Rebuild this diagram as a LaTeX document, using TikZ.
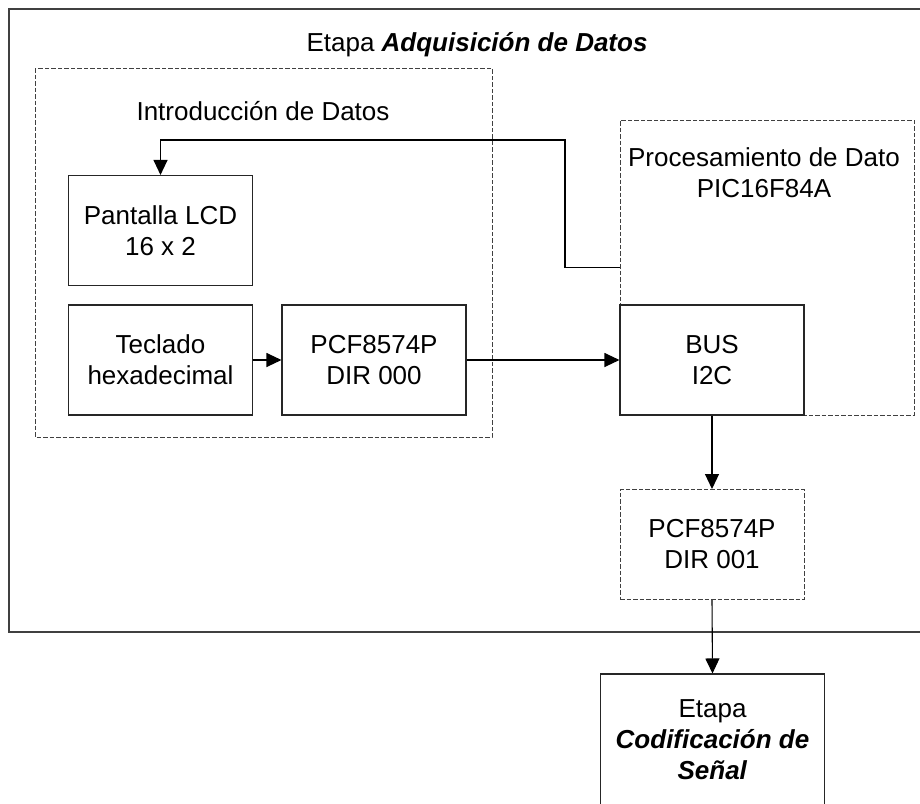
\documentclass[tikz,border=0pt]{standalone}
\usepackage{fontspec}
\setmainfont{Liberation Sans}
\usetikzlibrary{arrows.meta}
\begin{document}
\begin{tikzpicture}[x=1pt,y=-1pt,
  every node/.style={font=\fontsize{26}{31}\selectfont, align=center, inner sep=0pt},
  blk/.style={draw=black!85, line width=1.1pt, fill=white, minimum width=184pt, minimum height=110pt},
  dblk/.style={draw=black!75, line width=1pt, dash pattern=on 4.5pt off 2pt},
  arr/.style={draw=black, line width=1.1pt, -{Triangle[length=15pt,width=14pt]}},
  lbl/.style={anchor=base}]
\useasboundingbox (0,0) rectangle (920,803);
% outer stage box (cut off at right)
\draw[draw=black!75, line width=1.2pt] (9,9) rectangle (940,632);
\node[lbl] (title) at (477,51) {Etapa \textbf{\textit{Adquisición de Datos}}};
% dashed group: Introduccion de Datos
\draw[dblk] (35,68) rectangle (492,437);
\node[lbl] (intro) at (263,120) {Introducción de Datos};
% dashed group: Procesamiento
\node[dblk, minimum width=294pt, minimum height=295pt] (proc) at (767,267.5) {};
\node[lbl] (procl) at (764,197) {Procesamiento de Dato\\PIC16F84A};
% blocks
\node[blk] (lcd) at (160.5,230.5) {Pantalla LCD\\16 x 2};
\node[blk] (tec) at (160.5,360) {Teclado\\hexadecimal};
\node[blk] (pcf0) at (374,360) {PCF8574P\\DIR 000};
\node[blk] (bus) at (712,360) {BUS\\I2C};
\node[blk, draw=black!75, dash pattern=on 4.5pt off 2pt, line width=1pt] (pcf1) at (712,544.5) {PCF8574P\\DIR 001};
\node[blk, minimum width=224pt, minimum height=132pt] (etapa) at (712.5,740) {Etapa\\\textbf{\textit{Codificación de}}\\\textbf{\textit{Señal}}};
% connectors
\coordinate (fb1) at (565,267.5);
\coordinate (fb2) at (565,140);
\draw[arr] (proc.west) -- (fb1) -- (fb2) -| (lcd.north);
\draw[arr] (tec.east) -- (pcf0.west);
\draw[arr] (pcf0.east) -- (bus.west);
\draw[arr] (bus.south) -- (pcf1.north);
\draw[arr] (pcf1.south) -- (etapa.north);
\end{tikzpicture}
\end{document}
